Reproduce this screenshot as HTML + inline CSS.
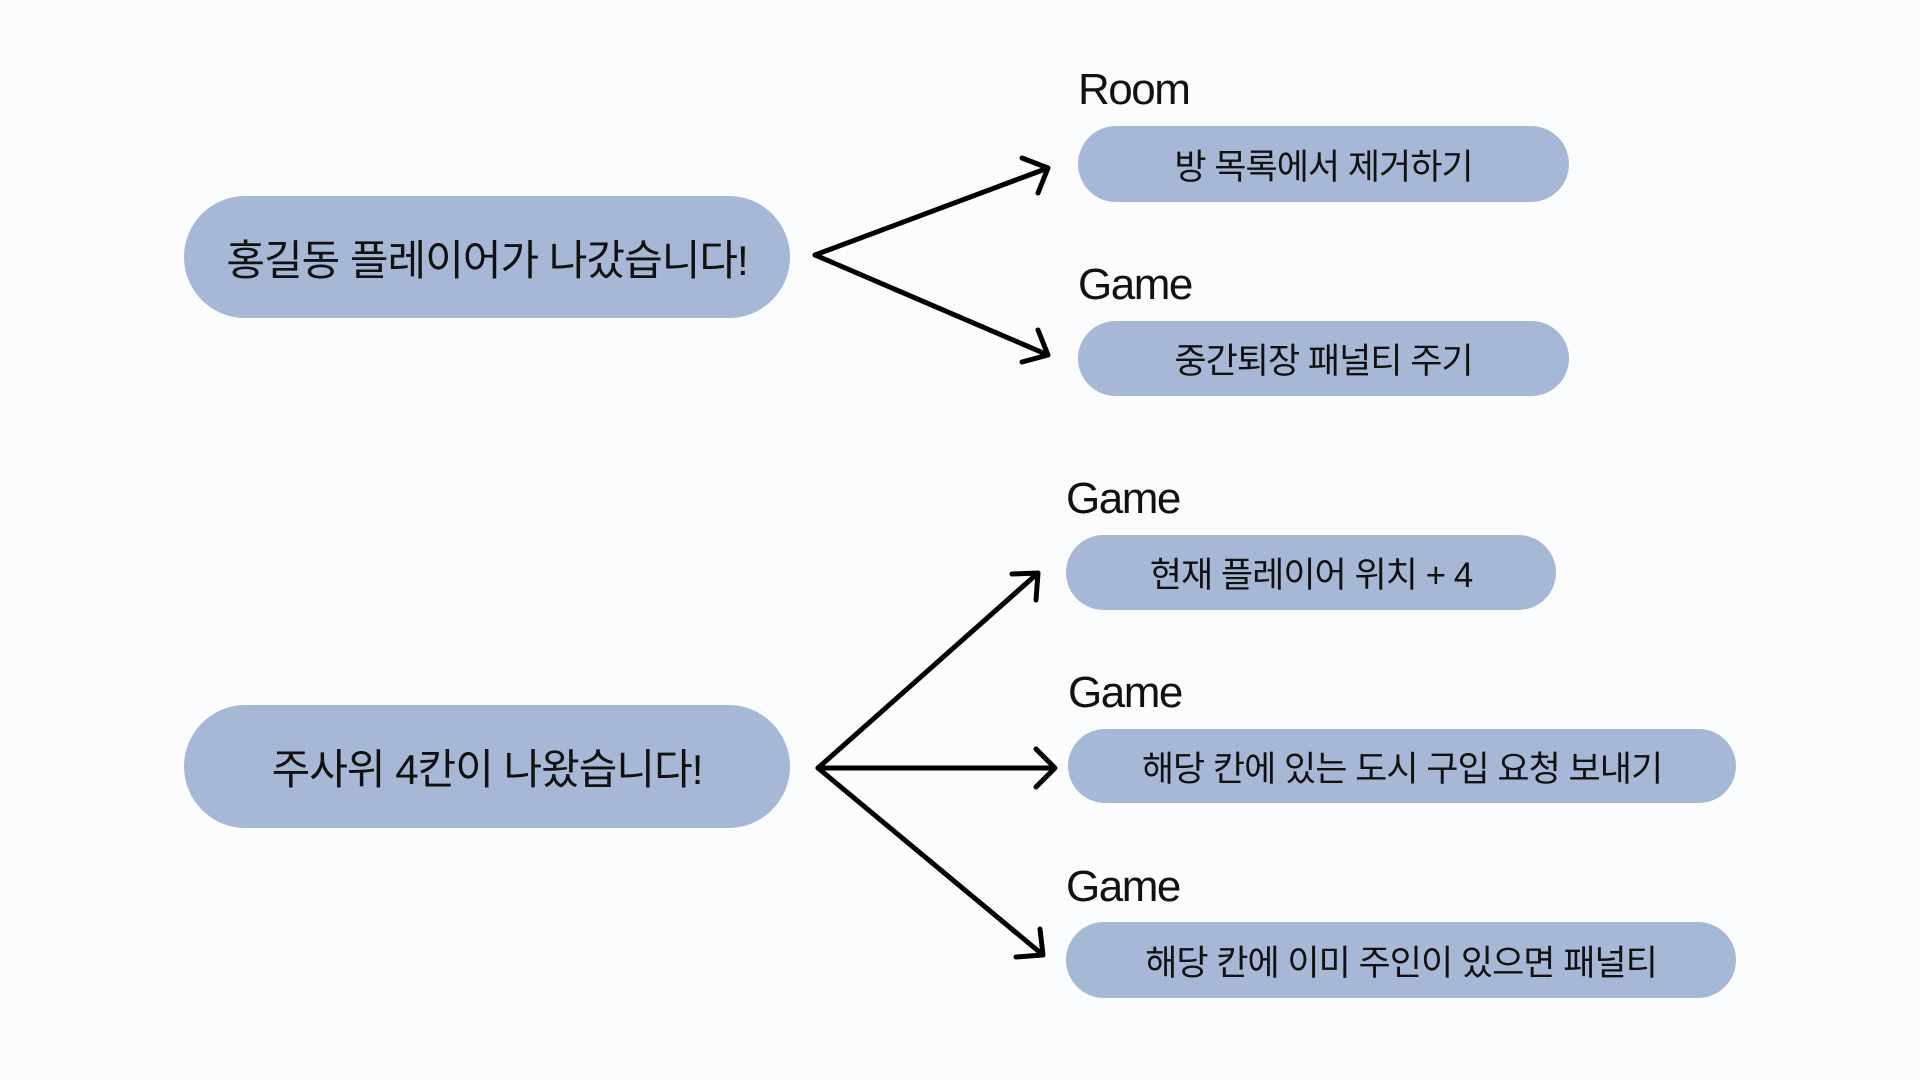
<!DOCTYPE html>
<html><head><meta charset="utf-8"><style>
html,body{margin:0;padding:0;width:1920px;height:1080px;background:#fbfcfe;overflow:hidden}
body{position:relative;font-family:"Liberation Sans","Noto Sans CJK KR",sans-serif;color:#111}
.b{position:absolute;background:#a7b7d6;display:flex;align-items:center;justify-content:center;white-space:nowrap;letter-spacing:-1px}
.big{border-radius:62px;font-size:42px}
.sm{border-radius:38px;font-size:35px}
.l{position:absolute;font-size:44px;letter-spacing:-1.5px;line-height:1}
svg{position:absolute;left:0;top:0}
</style></head><body>
<div class="b big" style="left:184px;top:196px;width:606px;height:122px">홍길동 플레이어가 나갔습니다!</div>
<div class="b big" style="left:184px;top:705px;width:606px;height:123px">주사위 4칸이 나왔습니다!</div>
<div class="l" style="left:1078px;top:68px">Room</div>
<div class="b sm" style="left:1078px;top:126px;width:491px;height:76px">방 목록에서 제거하기</div>
<div class="l" style="left:1078px;top:263px">Game</div>
<div class="b sm" style="left:1078px;top:321px;width:491px;height:75px">중간퇴장 패널티 주기</div>
<div class="l" style="left:1066px;top:477px">Game</div>
<div class="b sm" style="left:1066px;top:535px;width:490px;height:75px">현재 플레이어 위치 + 4</div>
<div class="l" style="left:1068px;top:671px">Game</div>
<div class="b sm" style="left:1068px;top:729px;width:668px;height:74px">해당 칸에 있는 도시 구입 요청 보내기</div>
<div class="l" style="left:1066px;top:865px">Game</div>
<div class="b sm" style="left:1066px;top:922px;width:670px;height:76px">해당 칸에 이미 주인이 있으면 패널티</div>
<svg width="1920" height="1080" fill="none" stroke="#000" stroke-width="5" stroke-linecap="round" stroke-linejoin="round">
<path d="M815 255 L1048 168 M1022 158 L1048 168 L1038 193"/>
<path d="M815 255 L1048 355 M1038 330 L1048 355 L1022 362"/>
<path d="M818 768 L1038 573 M1012 574 L1038 573 L1036 600"/>
<path d="M818 768 L1055 768 M1036 749 L1055 768 L1036 787"/>
<path d="M818 768 L1043 955 M1040 929 L1043 955 L1016 957"/>
</svg>
</body></html>
